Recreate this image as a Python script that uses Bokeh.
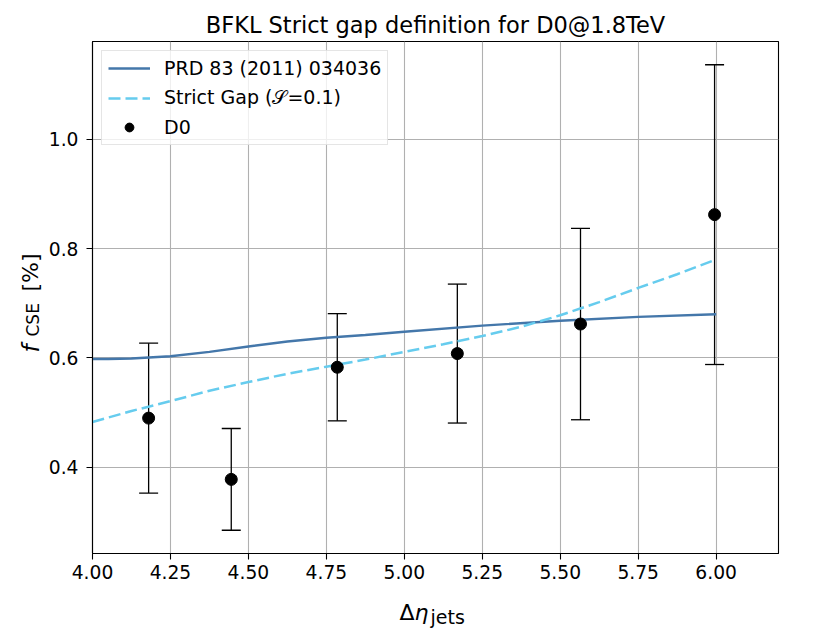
import math
from bokeh.plotting import figure
from bokeh.models import (ColumnDataSource, Whisker, TeeHead, Label, FixedTicker,
                          NumeralTickFormatter, Legend, LegendItem, Range1d)
from bokeh.embed import file_html
from bokeh.resources import INLINE

# ---------------- data ----------------
title_text = "BFKL Strict gap definition for D0@1.8TeV"

theory_label = "PRD 83 (2011) 034036"
theory_x = [4.0, 4.05, 4.125, 4.25, 4.375, 4.5, 4.625, 4.75, 4.875, 5.0, 5.25, 5.5, 5.75, 6.0]
theory_y = [0.598, 0.598, 0.599, 0.603, 0.611, 0.621, 0.630, 0.637, 0.642, 0.648, 0.659, 0.668, 0.675, 0.680]

strict_label = "Strict Gap (\U0001D4AE=0.1)"
strict_x = [4.0, 4.125, 4.25, 4.375, 4.5, 4.625, 4.75, 4.875, 5.0, 5.125, 5.25, 5.375, 5.5, 5.625, 5.75, 5.875, 6.0]
strict_y = [0.483, 0.503, 0.521, 0.540, 0.556, 0.571, 0.584, 0.597, 0.611, 0.625, 0.640, 0.657, 0.678, 0.702, 0.728, 0.753, 0.780]

d0_label = "D0"
d0_x = [4.18, 4.445, 4.785, 5.17, 5.565, 5.995]
d0_y = [0.490, 0.378, 0.583, 0.608, 0.662, 0.862]
d0_err = [0.137, 0.093, 0.098, 0.127, 0.175, 0.274]

x_ticks = [4.0, 4.25, 4.5, 4.75, 5.0, 5.25, 5.5, 5.75, 6.0]
y_ticks = [0.4, 0.6, 0.8, 1.0]

X0, X1 = 4.0, 6.2
Y0, Y1 = 0.2425, 1.1785

FONT = "DejaVu Sans"

# ---------------- figure ----------------
W, H = 830, 639
p = figure(width=W, height=H, output_backend="svg", toolbar_location=None,
           x_range=Range1d(X0, X1), y_range=Range1d(Y0, Y1),
           min_border_left=92, min_border_right=52, min_border_top=41,
           min_border_bottom=86)
p.background_fill_color = "white"
p.border_fill_color = "white"
p.outline_line_color = "black"
p.outline_line_width = 1.1

p.title.text = title_text
p.title.align = "center"
p.title.text_font = FONT
p.title.text_font_size = "22.5px"
p.title.text_font_style = "normal"
p.title.text_color = "black"
p.title.standoff = 7

p.xaxis.ticker = FixedTicker(ticks=x_ticks)
p.yaxis.ticker = FixedTicker(ticks=y_ticks)
p.xaxis.formatter = NumeralTickFormatter(format="0.00")
p.yaxis.formatter = NumeralTickFormatter(format="0.0")
for ax in (p.xaxis, p.yaxis):
    ax.major_tick_in = 0
    ax.major_tick_out = 6
    ax.minor_tick_line_color = None
    ax.axis_line_color = "black"
    ax.axis_line_width = 1.1
    ax.major_tick_line_color = "black"
    ax.major_tick_line_width = 1.1
    ax.major_label_text_font = FONT
    ax.major_label_text_font_size = "18.7px"
    ax.major_label_text_color = "black"
p.xaxis.major_label_standoff = 5
p.yaxis.major_label_standoff = 8

p.grid.grid_line_color = "#b0b0b0"
p.grid.grid_line_width = 1.1

# ---------------- glyphs ----------------
src_d0 = ColumnDataSource(dict(
    x=d0_x, y=d0_y,
    upper=[v + e for v, e in zip(d0_y, d0_err)],
    lower=[v - e for v, e in zip(d0_y, d0_err)],
))
wh = Whisker(source=src_d0, base="x", upper="upper", lower="lower",
             line_color="black", line_width=1.3,
             upper_head=TeeHead(size=19, line_color="black", line_width=1.3),
             lower_head=TeeHead(size=19, line_color="black", line_width=1.3))
p.add_layout(wh)

r_theory = p.line(theory_x, theory_y, line_color="#4477aa", line_width=2.4)
r_strict = p.line(strict_x, strict_y, line_color="#66ccee", line_width=2.5,
                  line_dash="12 5")
r_d0 = p.scatter("x", "y", source=src_d0, size=12, color="black")

legend = Legend(items=[
    LegendItem(label=theory_label, renderers=[r_theory]),
    LegendItem(label=strict_label, renderers=[r_strict]),
    LegendItem(label=d0_label, renderers=[r_d0]),
], location="top_left")
legend.margin = 9
legend.padding = 6
legend.spacing = 7
legend.glyph_width = 42
legend.glyph_height = 22
legend.label_height = 22
legend.label_standoff = 14
legend.label_text_font = FONT
legend.label_text_font_size = "19px"
legend.label_text_color = "black"
legend.border_line_color = "#cccccc"
legend.border_line_width = 1
legend.background_fill_color = "white"
legend.background_fill_alpha = 0.8
p.add_layout(legend)

# ---------------- axis labels (placed in side panels so they are not clipped) ----------------
def lbl(text, xo, yo, size, style="normal", angle=0.0):
    return Label(x=X0, y=Y0, x_offset=xo, y_offset=yo, text=text, angle=angle,
                 text_align="left", text_baseline="alphabetic", text_font=FONT,
                 text_font_size=size, text_font_style=style, text_color="black")

# x label: Δη_jets
p.add_layout(lbl("Δ", 307, -59, "22px"), "below")
p.add_layout(lbl("jets", 338, -63.5, "19px"), "below")
p.add_layout(lbl("η", 322, -59, "22px", "italic"), "left")

# y label: f_CSE [%]
p.add_layout(lbl("f", -62, 201, "23px", "italic", math.pi / 2), "left")
p.add_layout(lbl("CSE", -59.5, 217, "17px", "normal", math.pi / 2), "right")
p.add_layout(lbl("[%]", -62, 262, "22px", "normal", math.pi / 2), "right")

open("out.html", "w").write(file_html(p, INLINE))
